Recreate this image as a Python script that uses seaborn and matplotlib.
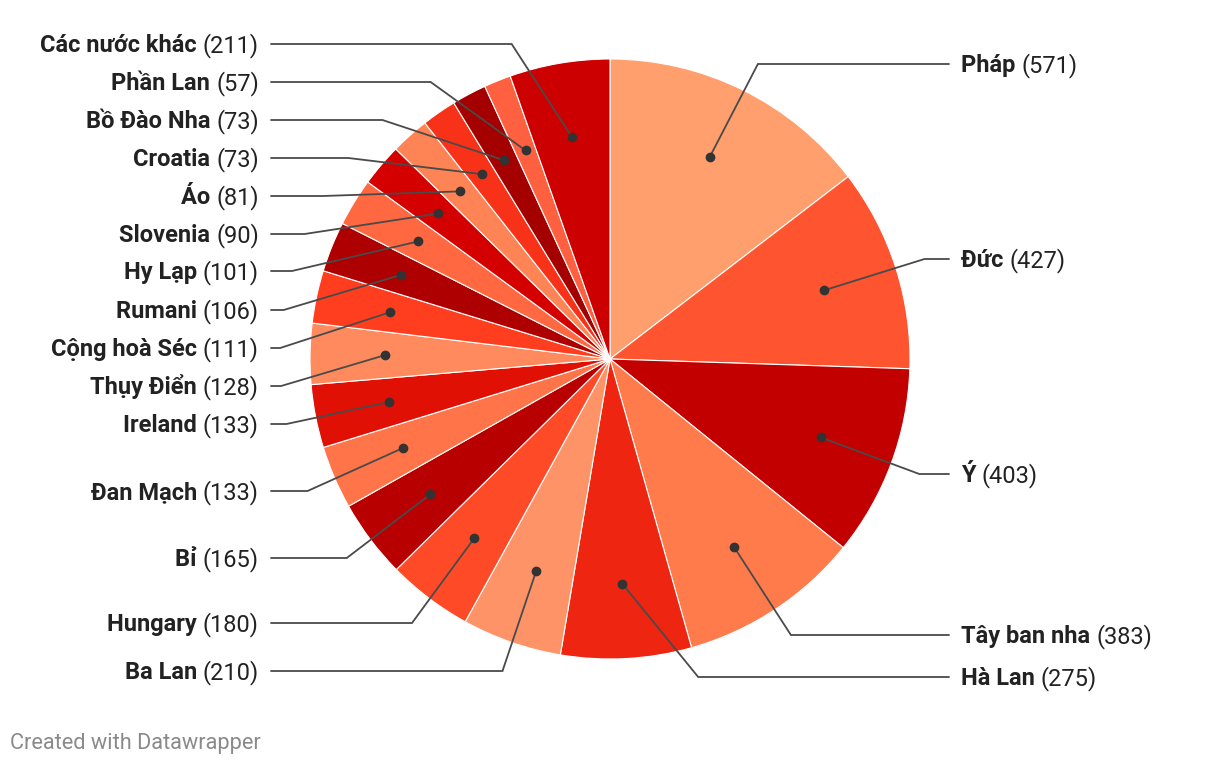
"""Pie chart: Vietnamese country labels with leader lines (Datawrapper style)."""
import numpy as np
import matplotlib.pyplot as plt
import seaborn as sns

countries = ['Pháp', 'Đức', 'Ý', 'Tây ban nha', 'Hà Lan', 'Ba Lan', 'Hungary', 'Bỉ',
             'Đan Mạch', 'Ireland', 'Thụy Điển', 'Cộng hoà Séc', 'Rumani', 'Hy Lạp',
             'Slovenia', 'Áo', 'Croatia', 'Bồ Đào Nha', 'Phần Lan', 'Các nước khác']
values = [571, 427, 403, 383, 275, 210, 180, 165, 133, 133, 128, 111, 106, 101,
          90, 81, 73, 73, 57, 211]
colors = ['#FE9F6D', '#FE5430', '#C30000', '#FF7B4B', '#EE2510', '#FF9368',
          '#FF4A28', '#B80000', '#FF7448', '#E01005', '#FF8A5E', '#FF3E20',
          '#AE0000', '#FF6840', '#D40000', '#FF8455', '#F83218', '#A40000',
          '#FF6040', '#CD0000']

# label rows in pixels from the top (layout only)
label_rows = [64, 259, 474, 635, 677, 671, 623, 558, 491, 424, 386, 348, 310,
              271, 234, 196, 158, 120, 82, 44]

W, H, DPI = 1220, 766, 100
CX, CY, R = 610, 359, 300  # pie centre / radius in pixels

sns.set_theme(style='white')
plt.rcParams['font.family'] = ['Roboto', 'DejaVu Sans']

fig = plt.figure(figsize=(W / DPI, H / DPI), dpi=DPI)
ax = fig.add_axes([0, 0, 1, 1])
wedges, _ = ax.pie(values, colors=colors, startangle=90, counterclock=False,
                   radius=1, wedgeprops=dict(edgecolor='white', linewidth=0.8))
ax.set_aspect('auto')
ax.set_xlim(-CX / R, (W - CX) / R)
ax.set_ylim((CY - H) / R, CY / R)
ax.axis('off')

fs = 17
cap = 0.711 * fs * DPI / 72 / R  # cap height in data units
renderer = fig.canvas.get_renderer()
line_col = '#4a4a4a'
txt_col = '#222222'

for w, name, val, row in zip(wedges, countries, values, label_rows):
    mid = np.deg2rad((w.theta1 + w.theta2) / 2)
    dx, dy = 0.75 * np.cos(mid), 0.75 * np.sin(mid)
    ly = (CY - row) / R
    r2 = 1.1
    ex = np.sqrt(max(r2 ** 2 - ly ** 2, 0))
    side = 1 if np.cos(mid) >= 0 else -1
    ex *= side
    hx = side * 1.13
    ax.plot([dx, ex, hx], [dy, ly, ly], color=line_col, lw=1.3, zorder=3,
            solid_joinstyle='miter')
    ax.plot(dx, dy, 'o', color='#333333', ms=6, zorder=4)
    ty = ly - cap / 2
    if side > 0:
        tx = hx + 0.04
        t1 = ax.text(tx, ty, name + ' ', fontsize=fs, fontweight='bold',
                     color=txt_col, ha='left', va='baseline')
        wpx = t1.get_window_extent(renderer).width
        ax.text(tx + wpx / R, ty, f'({val})', fontsize=fs, color=txt_col,
                ha='left', va='baseline')
    else:
        tx = hx - 0.04
        t2 = ax.text(tx, ty, f'({val})', fontsize=fs, color=txt_col,
                     ha='right', va='baseline')
        wpx = t2.get_window_extent(renderer).width
        ax.text(tx - wpx / R, ty, name + ' ', fontsize=fs, fontweight='bold',
                color=txt_col, ha='right', va='baseline')

fig.text(10 / W, 1 - 749 / H, 'Created with Datawrapper', fontsize=15.7,
         color='#8a8a8a', ha='left', va='baseline')

fig.savefig('out.png', dpi=DPI)
